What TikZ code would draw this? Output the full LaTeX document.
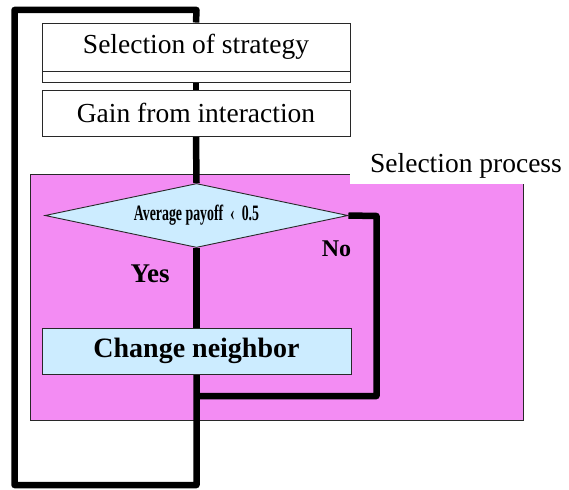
\documentclass[tikz,border=0pt]{standalone}
\usepackage{fontspec}
\setmainfont{Liberation Serif}
\usetikzlibrary{shapes.geometric}
\pgfdeclarelayer{bg}
\pgfdeclarelayer{lines}
\pgfsetlayers{bg,lines,main}
\definecolor{procpink}{RGB}{243,140,243}
\definecolor{paleblue}{RGB}{204,236,255}
\definecolor{edgegray}{RGB}{40,40,40}
\tikzset{
  stepbox/.style={draw=edgegray, line width=0.9pt, fill=white, minimum width=308pt,
    minimum height=46pt, inner sep=0pt,
    font=\fontsize{27.5}{30}\selectfont},
  actbox/.style={stepbox, fill=paleblue, minimum width=309pt,
    font=\bfseries\fontsize{28}{30}\selectfont},
  decision/.style={diamond, draw=edgegray, line width=0.9pt, fill=paleblue,
    aspect=4.7, inner sep=0pt, minimum width=303pt, minimum height=64pt},
  flow/.style={line width=6.5pt, line join=round, draw=black},
  answer/.style={inner sep=0pt, font=\bfseries\fontsize{#1}{#1}\selectfont},
}
\begin{document}
\begin{tikzpicture}[x=1pt, y=-1pt]
\useasboundingbox (0,0) rectangle (569,489);

% process nodes
\node[stepbox, minimum height=11pt] (stratbase) at (196,76.5) {};
\node[stepbox, minimum height=48pt] (strat) at (196,47) {Selection of strategy};
\node[stepbox] (gain) at (196,113) {Gain from interaction};
\node[decision] (test) at (196.5,215.5)
  {\scalebox{0.63}[1]{\bfseries\fontsize{22}{24}\selectfont Average payoff\ \ ‹\ \ 0.5}};
\node[actbox] (change) at (196.5,351) {Change neighbor};

% answers
\node[answer=27] (yes) at (150,274) {Yes};
\node[answer=24] (no) at (336.5,249) {No};

% corner points of the loops
\coordinate (noR) at (376.5,216);
\coordinate (noB) at (376.5,396);
\coordinate (loopB) at (196.5,485);
\coordinate (loopBL) at (14.5,485);
\coordinate (loopTL) at (14.5,10);
\coordinate (loopT) at (196.5,10);

% selection process area and its caption
\begin{pgfonlayer}{bg}
  \node[draw=edgegray, line width=1.2pt, fill=procpink, minimum width=493pt,
    minimum height=246pt, inner sep=0pt, anchor=north west] (area) at (30,174) {};
  \fill[white] (350,136) rectangle (569,184);
  \node[inner sep=0pt, text height=19pt, text depth=6pt, anchor=base,
    font=\fontsize{27.5}{30}\selectfont] (caption) at (466,172) {Selection process};
\end{pgfonlayer}

% flow lines
\begin{pgfonlayer}{lines}
  \draw[flow] (stratbase.south) -- (gain.north);
  \draw[flow] (gain.south) -- (test.north);
  \draw[flow] (test.south) -- (change.north);
  \draw[flow] (test.east) -- (noR) -- (noB) -- (noB -| change.south);
  \draw[flow] (change.south) -- (loopB) -- (loopBL) -- (loopTL) -- (loopT) -- (strat.north);
\end{pgfonlayer}
\end{tikzpicture}
\end{document}
